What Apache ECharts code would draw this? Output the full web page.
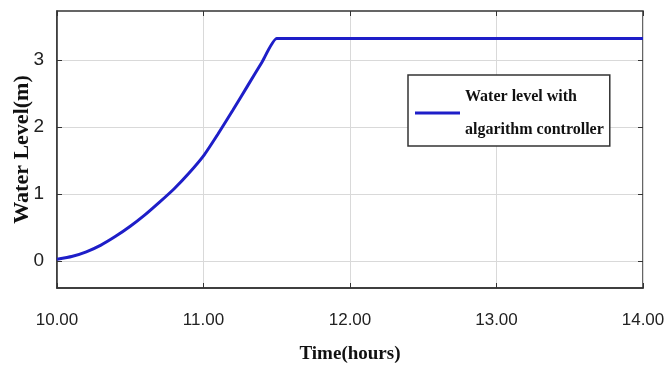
<!DOCTYPE html>
<html>
<head>
<meta charset="utf-8">
<script src="https://cdn.jsdelivr.net/npm/echarts@6/dist/echarts.min.js"></script>
<style>
  html, body { margin: 0; padding: 0; background: #fff; }
  #chart { width: 664px; height: 367px; }
</style>
</head>
<body>
<div id="chart"></div>
<script>
// Time in hours and the simulated water level (m)
const timeHours = [10.0, 10.1, 10.2, 10.3, 10.4, 10.5, 10.6, 10.7, 10.8, 10.9, 11.0, 11.1, 11.2, 11.3, 11.4, 11.5, 12.0, 12.5, 13.0, 13.5, 14.0];
const waterLevel = [0.03, 0.07, 0.14, 0.24, 0.37, 0.52, 0.69, 0.88, 1.08, 1.31, 1.57, 1.90, 2.25, 2.61, 2.97, 3.32, 3.32, 3.32, 3.32, 3.32, 3.32];
const xTicks = [10, 11, 12, 13, 14];
const yTicks = [0, 1, 2, 3];
const seriesName = 'Water level with algarithm controller';

const tickFont = { fontFamily: '"Liberation Sans", Arial, sans-serif', color: '#222' };
const titleFont = { fontFamily: '"Liberation Serif", "Times New Roman", serif', fontWeight: 'bold', color: '#111' };
const gridColor = '#d9d9d9';
const boxColor = '#333';

const chart = echarts.init(document.getElementById('chart'), null, { renderer: 'canvas' });

chart.setOption({
  backgroundColor: '#fff',
  animation: false,
  grid: {
    left: 57, right: 21, top: 11, bottom: 79,
    containLabel: false, outerBoundsMode: 'none',
    show: true, borderColor: boxColor, borderWidth: 1.5, backgroundColor: 'transparent'
  },
  legend: {
    left: 408, top: 75, z: 10,
    orient: 'vertical',
    data: [{ name: seriesName, icon: 'rect' }],
    itemWidth: 45, itemHeight: 3,
    padding: [5, 6, 0, 7],
    borderColor: '#333', borderWidth: 1.5,
    backgroundColor: '#fff',
    formatter: () => 'Water level with\nalgarithm controller',
    textStyle: Object.assign({}, titleFont, { fontSize: 16, lineHeight: 33 })
  },
  xAxis: [{
    type: 'value', min: 10, max: 14, interval: 1,
    axisLine: { show: true, onZero: false, lineStyle: { color: boxColor, width: 1.5 } },
    axisTick: { show: true, inside: true, length: 5, lineStyle: { color: boxColor } },
    axisLabel: Object.assign({}, tickFont, { fontSize: 17, margin: 24, formatter: v => v.toFixed(2) }),
    splitLine: { show: true, lineStyle: { color: gridColor, width: 1 } },
    name: 'Time(hours)', nameLocation: 'middle', nameGap: 57,
    nameTextStyle: Object.assign({}, titleFont, { fontSize: 19 })
  }, {
    type: 'value', position: 'top', min: 10, max: 14, interval: 1,
    axisLine: { show: false, onZero: false },
    axisTick: { show: true, inside: true, length: 5, lineStyle: { color: boxColor } },
    axisLabel: { show: false }, splitLine: { show: false }
  }],
  yAxis: [{
    type: 'value', min: -0.4, max: 3.73,
    axisLine: { show: true, onZero: false, lineStyle: { color: boxColor, width: 1.5 } },
    axisTick: { show: true, inside: true, length: 5, customValues: yTicks, lineStyle: { color: boxColor } },
    axisLabel: Object.assign({}, tickFont, { fontSize: 19, margin: 13, customValues: yTicks }),
    splitLine: { show: false },
    name: 'Water Level(m)', nameLocation: 'middle', nameGap: 24, nameMoveOverlap: false,
    nameTextStyle: Object.assign({}, titleFont, { fontSize: 22 })
  }, {
    type: 'value', position: 'right', min: -0.4, max: 3.73,
    axisLine: { show: false, onZero: false },
    axisTick: { show: true, inside: true, length: 5, customValues: yTicks, lineStyle: { color: boxColor } },
    axisLabel: { show: false }, splitLine: { show: false }
  }],
  series: [{
    // horizontal grid lines at the labelled levels
    type: 'line', data: [], silent: true, z: 0,
    markLine: {
      silent: true, symbol: 'none', label: { show: false }, z: 0,
      lineStyle: { color: gridColor, width: 1, type: 'solid' },
      data: yTicks.map(v => ({ yAxis: v }))
    }
  }, {
    name: seriesName,
    type: 'line', z: 3,
    data: timeHours.map((t, i) => [t, waterLevel[i]]),
    showSymbol: false, symbol: 'none', smooth: 0.15,
    lineStyle: { color: '#1e1ec8', width: 3 },
    itemStyle: { color: '#1e1ec8' }
  }]
});
</script>
</body>
</html>
